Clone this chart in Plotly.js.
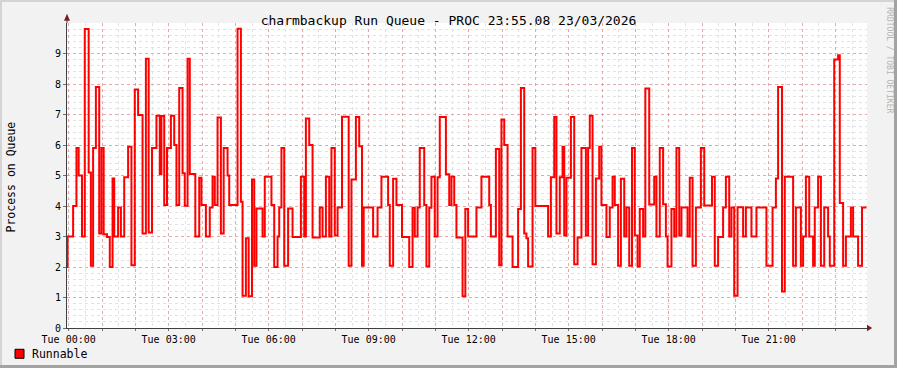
<!DOCTYPE html>
<html>
<head>
<meta charset="utf-8">
<script src="https://cdn.plot.ly/plotly-3.0.1.min.js"></script>
<style>
html,body{margin:0;padding:0;background:#f2f2f2;}
#wrap{position:relative;width:897px;height:368px;overflow:hidden;}
#chart{width:897px;height:368px;}
.b{position:absolute;}
</style>
</head>
<body>
<div id="wrap">
<div id="chart"></div>
<div class="b" style="left:0;top:0;width:897px;height:2px;background:#d4d4d4;"></div>
<div class="b" style="left:0;top:0;width:2px;height:368px;background:#d4d4d4;"></div>
<div class="b" style="left:0;top:365px;width:897px;height:3px;background:#a3a3a3;"></div>
<div class="b" style="left:894px;top:0;width:3px;height:368px;background:#a3a3a3;"></div>
</div>
<script>
// Time of each sample change, minutes from Tue 00:00
const minutesFromMidnight = [
-3,-2,8,14,18,24,29,36,40,44,49,55,59,63,69,74,79,82,89,94,
100,107,113,119,125,133,139,144,150,158,164,167,172,177,184,190,194,199,205,209,
214,218,228,235,239,247,254,259,263,268,274,279,286,289,304,310,313,319,324,330,
334,338,349,353,365,370,376,379,383,388,395,403,418,424,427,433,439,452,457,463,
469,473,479,484,492,504,509,517,523,528,531,548,556,563,575,578,584,590,600,613,
619,623,628,632,640,644,649,653,659,664,668,679,685,689,694,698,709,714,719,734,
743,757,760,769,775,779,784,790,799,809,814,820,824,827,835,840,863,868,874,878,
884,889,892,896,904,910,916,923,931,935,938,943,949,955,959,968,974,979,983,989,
994,1000,1004,1009,1014,1019,1024,1028,1034,1038,1045,1054,1058,1064,1070,1075,1078,1085,1090,1094,
1099,1103,1114,1118,1123,1129,1138,1144,1158,1163,1169,1178,1183,1189,1193,1198,1204,1214,1219,1229,
1238,1256,1267,1273,1277,1284,1289,1304,1309,1318,1322,1327,1333,1340,1343,1349,1354,1360,1367,1370,
1378,1385,1388,1394,1399,1408,1412,1421,1428,1436
];
// Runnable processes in queue
const runnable = [
2.0,3.0,4.0,5.9,5.0,3.0,9.8,5.1,2.04,5.9,7.9,3.1,5.9,3.07,2.98,2.0,4.9,3.0,3.95,3.0,
4.94,5.94,2.06,7.82,6.98,3.1,8.83,3.13,5.9,6.96,5.04,6.95,4.03,5.9,6.96,6.0,4.03,7.87,5.07,4.01,
8.83,5.05,3.0,4.93,4.03,3.0,3.95,4.96,4.03,6.9,3.1,5.9,5.0,4.03,9.81,4.14,1.06,2.94,1.04,4.87,
2.04,3.92,3.0,4.96,4.03,2.0,3.0,3.95,5.9,2.04,3.92,2.98,4.96,3.0,6.87,6.0,2.97,3.95,3.0,4.96,
3.0,5.9,3.03,3.95,6.93,2.04,4.87,6.92,5.96,2.04,3.95,3.0,3.95,4.96,4.03,2.04,4.89,4.03,2.98,2.0,
3.94,3.0,3.95,5.9,4.03,2.02,3.94,4.96,3.0,4.94,6.92,5.04,4.03,4.96,4.03,2.97,1.04,3.9,3.0,3.95,
4.96,4.03,3.0,5.87,2.06,6.84,6.0,3.0,2.0,3.9,7.87,3.1,2.94,2.02,5.9,4.0,3.0,4.94,6.92,3.1,
4.94,5.94,3.03,4.93,6.92,2.09,2.97,5.9,3.03,5.9,6.96,2.09,4.9,5.94,4.03,2.98,3.95,4.96,4.03,2.04,
4.89,3.0,3.95,2.04,5.9,3.03,2.02,3.9,3.0,7.85,4.05,4.96,3.0,5.9,4.06,3.0,2.02,3.9,3.0,5.9,
3.03,3.95,3.0,4.93,2.04,3.95,5.9,4.02,4.96,2.04,2.98,3.95,4.96,3.0,3.95,1.06,3.96,3.0,3.95,3.0,
3.95,2.04,3.95,4.9,7.9,1.2,4.96,2.04,3.95,2.04,3.0,4.96,3.0,2.04,3.95,4.96,2.04,3.95,3.0,2.04,
8.8,8.94,4.1,2.04,3.0,3.95,3.0,2.04,3.95,3.95
];
const hourTicks = Array.from({length:24},(_,i)=>i*60);
const hourLabels = hourTicks.map(m => (m % 180 === 0) ? 'Tue ' + String(m/60).padStart(2,'0') + ':00' : '');
const yTicks = [0,1,2,3,4,5,6,7,8,9];
const titleText = 'charmbackup Run Queue - PROC 23:55.08 23/03/2026';
const yTitle = 'Process on Queue';
const legendLabel = 'Runnable';
const watermark = 'RRDTOOL / TOBI OETIKER';

const mono = 'DejaVu Sans Mono, monospace';
const majorGrid = 'rgba(240,110,110,0.5)';
const minorGrid = '#e3e3e3';

const trace = {
  x: minutesFromMidnight, y: runnable, type: 'scatter', mode: 'lines',
  line: {shape: 'hv', color: '#ff0000', width: 2}, hoverinfo: 'skip', showlegend: false
};

const layout = {
  width: 897, height: 368,
  margin: {l: 67, r: 30, t: 23, b: 40, pad: 0},
  paper_bgcolor: '#f2f2f2', plot_bgcolor: '#ffffff',
  showlegend: false,
  title: {text: titleText, font: {family: mono, size: 13, color: '#000'}, x: 0.5, xref: 'container', y: 1 - 20/368, yref: 'container', yanchor: 'middle'},
  xaxis: {
    range: [-3, 1437], tickvals: hourTicks, ticktext: hourLabels,
    showgrid: true, gridcolor: majorGrid, griddash: 'dot', gridwidth: 1,
    minor: {dtick: 30, tick0: 0, showgrid: true, gridcolor: minorGrid, griddash: 'dot', gridwidth: 1, ticks: ''},
    zeroline: false, showline: true, linecolor: '#404040', linewidth: 1,
    ticks: 'outside', ticklen: 2, tickcolor: '#707070',
    tickfont: {family: mono, size: 10, color: '#000'}, fixedrange: true
  },
  yaxis: {
    range: [0, 10], tickvals: yTicks,
    showgrid: true, gridcolor: majorGrid, griddash: 'dot', gridwidth: 1,
    minor: {dtick: 0.2, tick0: 0, showgrid: true, gridcolor: minorGrid, griddash: 'dot', gridwidth: 1, ticks: ''},
    zeroline: false, showline: true, linecolor: '#404040', linewidth: 1,
    ticks: 'outside', ticklen: 3, tickcolor: '#707070',
    tickfont: {family: mono, size: 10, color: '#000'}, fixedrange: true
  },
  shapes: [
    {type: 'path', xref: 'paper', yref: 'paper', path: 'M 0,1.030 L -0.00375,1.007 L 0.00375,1.007 Z', fillcolor: '#7a1c1c', line: {width: 0}},
    {type: 'path', xref: 'paper', yref: 'paper', path: 'M 1.0065,0 L 1.0,0.011 L 1.0,-0.011 Z', fillcolor: '#7a1c1c', line: {width: 0}},
    {type: 'line', xref: 'paper', yref: 'paper', x0: 0, x1: 0, y0: 1, y1: 1.008, line: {color: '#404040', width: 1}},
    {type: 'rect', xref: 'paper', yref: 'paper', x0: -0.065, x1: -0.05375, y0: -0.0993, y1: -0.0698, fillcolor: '#ff0000', line: {color: '#000', width: 1}}
  ],
  annotations: [
    {text: yTitle, xref: 'paper', yref: 'paper', x: -0.07, y: 0.4967, xanchor: 'center', yanchor: 'middle', textangle: -90, showarrow: false, font: {family: mono, size: 11.5, color: '#000'}},
    {text: legendLabel, xref: 'paper', yref: 'paper', x: -0.04625, y: -0.0852, xanchor: 'left', yanchor: 'middle', showarrow: false, font: {family: mono, size: 11.5, color: '#000'}},
    {text: watermark, xref: 'paper', yref: 'paper', x: 1.027, y: 0.879, xanchor: 'center', yanchor: 'middle', textangle: 90, showarrow: false, font: {family: mono, size: 8, color: '#b4b4b4'}}
  ]
};

Plotly.newPlot('chart', [trace], layout, {staticPlot: true, displayModeBar: false});
</script>
</body>
</html>
